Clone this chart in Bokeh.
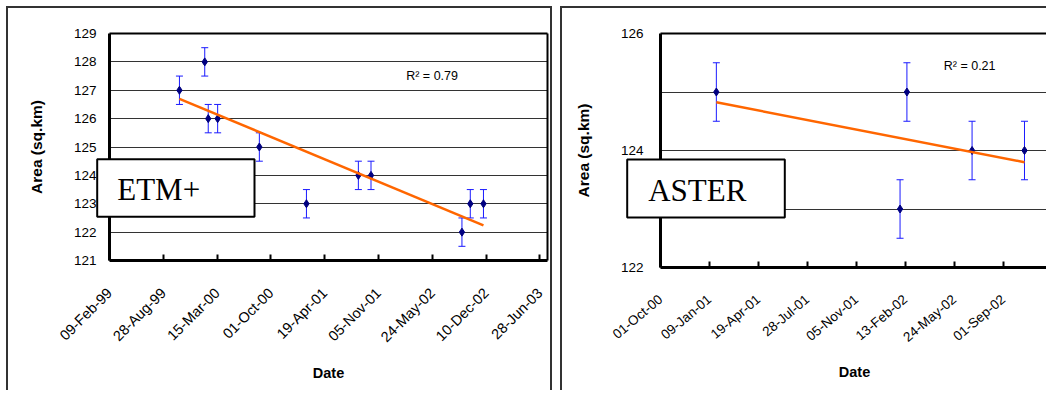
import numpy as np
import pandas as pd
from bokeh.plotting import figure
from bokeh.models import (ColumnDataSource, Range1d, FixedTicker, Whisker, TeeHead,
                          Label, LinearAxis, BoxAnnotation)
from bokeh.layouts import row, column
from bokeh.embed import file_html
from bokeh.resources import INLINE

# ---------------- data ----------------
etm_dates = ["1999-10-27", "2000-01-29", "2000-02-11", "2000-03-17", "2000-08-19",
             "2001-02-10", "2001-08-22", "2001-10-08", "2002-09-11", "2002-10-12",
             "2002-11-30"]
etm_area = [127, 128, 126, 126, 125, 123, 124, 124, 122, 123, 123]
etm_err = [0.5] * len(etm_area)
etm_ticks = ["1999-02-09", "1999-08-28", "2000-03-15", "2000-10-01", "2001-04-19",
             "2001-11-05", "2002-05-24", "2002-12-10", "2003-06-28"]
etm_yticks = [121, 122, 123, 124, 125, 126, 127, 128, 129]
etm_r2 = "R\u00b2 = 0.79"
etm_name = "ETM+"

aster_dates = ["2001-01-23", "2002-02-02", "2002-02-16", "2002-06-29", "2002-10-14"]
aster_area = [125, 123, 125, 124, 124]
aster_err = [0.5] * len(aster_area)
aster_ticks = ["2000-10-01", "2001-01-09", "2001-04-19", "2001-07-28", "2001-11-05",
               "2002-02-13", "2002-05-24", "2002-09-01", "2002-12-10"]
aster_yticks = [122, 124, 126]
aster_yminor = [123, 125]
aster_r2 = "R\u00b2 = 0.21"
aster_name = "ASTER"

EPOCH = pd.Timestamp("1970-01-01")


def day(d):
    return int((pd.Timestamp(d) - EPOCH).days)


def days(lst):
    return [day(d) for d in lst]


def label_of(d):
    return pd.Timestamp(d).strftime("%d-%b-%y")


SANS = "Liberation Sans"
SERIF = "Liberation Serif"
BORDER = "2px solid #333333"
CLEAR = "2px solid transparent"


def bare_axis(bounds, width):
    return LinearAxis(ticker=FixedTicker(ticks=[]), bounds=bounds,
                      axis_line_color="black", axis_line_width=width,
                      major_tick_in=0, major_tick_out=0, minor_tick_in=0,
                      minor_tick_out=0, major_label_standoff=0,
                      major_label_text_font_size="0px")


def build(width, height, mbl, mbr, mbt, mbb, xr, yr, dates, area, err, ticks,
          yticks, yminor, r2, r2_pos, right_edge, styles, margin, lab_size, lab_angle):
    p = figure(width=width, height=height, output_backend="svg", toolbar_location=None,
               min_border_left=mbl, min_border_right=mbr, min_border_top=mbt,
               min_border_bottom=mbb,
               x_range=Range1d(day(xr[0]), day(xr[1])), y_range=Range1d(*yr),
               styles=styles, margin=margin)
    p.background_fill_color = "white"
    p.border_fill_color = "white"
    p.outline_line_color = None

    x0 = day(xr[0])
    xend = day(xr[1])

    x = days(dates)
    src = ColumnDataSource(dict(x=x, y=area,
                                lo=[a - e for a, e in zip(area, err)],
                                hi=[a + e for a, e in zip(area, err)]))

    # grid
    p.xgrid.grid_line_color = None
    p.ygrid.grid_line_color = "#333333"
    p.ygrid.grid_line_width = 1
    if yminor:
        p.ygrid.minor_grid_line_color = "#333333"
        p.ygrid.minor_grid_line_width = 1

    # axes
    tk = days(ticks)
    p.xaxis.ticker = FixedTicker(ticks=tk)
    p.xaxis.major_label_overrides = {t: label_of(d) for t, d in zip(tk, ticks)}
    p.xaxis.major_label_orientation = lab_angle
    p.xaxis.major_tick_in = 6
    p.xaxis.major_tick_out = 0
    p.xaxis.major_tick_line_width = 2
    p.xaxis.minor_tick_line_color = None
    p.xaxis.major_label_standoff = 30
    p.xaxis.axis_label = "Date"
    p.xaxis.axis_label_standoff = 11

    p.yaxis.ticker = FixedTicker(ticks=yticks, minor_ticks=yminor or [])
    p.yaxis.major_tick_in = 0
    p.yaxis.major_tick_out = 0
    p.yaxis.minor_tick_line_color = None
    p.yaxis.major_label_standoff = 13
    p.yaxis.axis_label = "Area (sq.km)"
    p.yaxis.axis_label_standoff = 26

    for ax in (p.xaxis, p.yaxis):
        ax.axis_line_width = 3
        ax.axis_line_color = "black"
        ax.major_tick_line_color = "black"
        ax.major_label_text_font = SANS
        ax.major_label_text_color = "black"
        ax.axis_label_text_font = SANS
        ax.axis_label_text_font_style = "bold"
        ax.axis_label_text_color = "black"
    p.xaxis.major_label_text_font_size = lab_size
    p.yaxis.major_label_text_font_size = "13.5px"
    p.xaxis.axis_label_text_font_size = "14.5px"
    p.yaxis.axis_label_text_font_size = "15.5px"

    # plot-area border: top (and right for the first panel)
    p.add_layout(bare_axis((x0, xend), 2), "above")
    if right_edge:
        p.add_layout(bare_axis(yr, 2), "right")

    # error bars, points
    p.add_layout(Whisker(source=src, base="x", lower="lo", upper="hi",
                         line_color="#1a1aff", line_width=1,
                         lower_head=TeeHead(size=7, line_color="#1a1aff", line_width=1),
                         upper_head=TeeHead(size=7, line_color="#1a1aff", line_width=1)))
    p.scatter("x", "y", source=src, marker="diamond", size=8, color="#000080")

    # linear trend line over the data extent
    xa = np.array(x, dtype=float)
    k, b = np.polyfit(xa, np.array(area, dtype=float), 1)
    xs = [xa.min(), xa.max()]
    p.line(xs, [k * v + b for v in xs], line_color="#ff6600", line_width=2.5)

    # R^2 note
    p.add_layout(Label(x=day(r2_pos[0]), y=r2_pos[1], text=r2, text_font=SANS,
                       text_font_size="12.5px", text_align="center",
                       text_baseline="middle", text_color="black"))
    return p


def overlay(width, height, frame_x, name, box, text_pos, styles, margin):
    # transparent layer over a panel (page-pixel coordinates, y downwards) carrying
    # the framed sensor name that straddles the value axis
    o = figure(width=width, height=height, output_backend="svg", toolbar_location=None,
               x_range=Range1d(*frame_x), y_range=Range1d(8 + height, 8),
               x_axis_location=None, y_axis_location=None, min_border=0,
               styles=styles, margin=margin)
    o.grid.visible = False
    o.outline_line_color = None
    o.background_fill_alpha = 0
    o.border_fill_alpha = 0
    o.add_layout(BoxAnnotation(left=box[0], right=box[1], top=box[2], bottom=box[3],
                               fill_color="white", fill_alpha=1, line_color="black",
                               line_width=2, line_alpha=1))
    o.add_layout(Label(x=text_pos[0], y=text_pos[1], text=name, text_font=SERIF,
                       text_font_size="31px", text_align="left",
                       text_baseline="alphabetic", text_color="black"))
    return o


left = build(546, 384, 101, 7, 25, 132, ("1999-02-09", "2003-07-26"), (121, 129),
             etm_dates, etm_area, etm_err, etm_ticks, etm_yticks, None,
             etm_r2, ("2002-05-23", 127.51), True,
             {"border-left": BORDER, "border-top": BORDER, "border-right": BORDER},
             (6, 0, 0, 6), "14.5px", np.pi / 4)

right = build(486, 384, 98, 0, 25, 125, ("2000-10-01", "2002-12-02"), (122, 126),
              aster_dates, aster_area, aster_err, aster_ticks, aster_yticks, aster_yminor,
              aster_r2, ("2002-06-24", 125.44), False,
              {"border-left": BORDER, "border-top": BORDER},
              (6, 0, 0, 0), "13.5px", np.radians(40))

# overlay canvases start left of their panel so that their (column-aligned) frames
# begin left of the value axis: canvas x = margin + 2, frame = canvas + aligned border
etm_layer = overlay(546, 384, (-12 + 101, -12 + 546 - 7), etm_name,
                    (96.7, 254, 160.7, 218.3), (116.7, 191),
                    {"border-left": CLEAR, "border-top": CLEAR, "border-right": CLEAR},
                    (-386, 0, 0, -14))
aster_layer = overlay(486, 384, (526 + 98, 526 + 486), aster_name,
                      (630.7, 788.3, 161, 219), (651.7, 192),
                      {"border-left": CLEAR, "border-top": CLEAR},
                      (-386, 0, 0, -40))

layout = row(column(left, etm_layer), column(right, aster_layer), spacing=8)
open("out.html", "w").write(file_html(layout, INLINE))
